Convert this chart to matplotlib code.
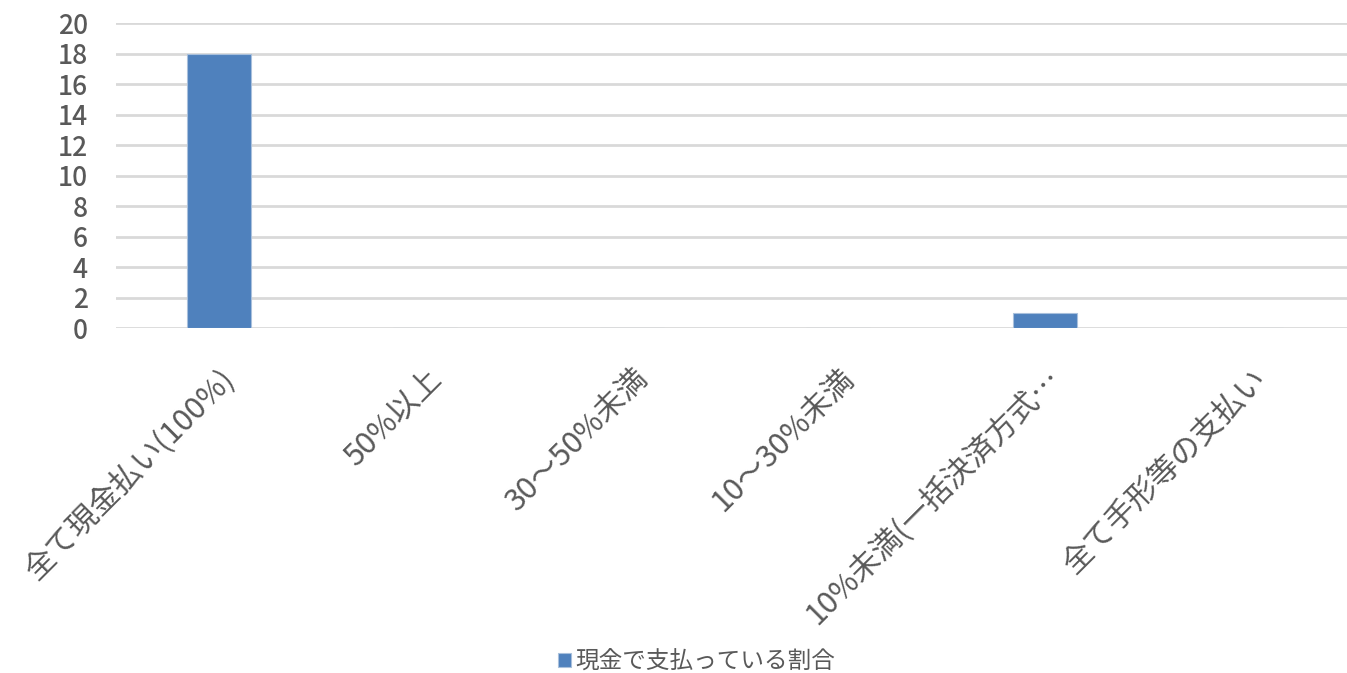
import matplotlib
matplotlib.use("Agg")
import matplotlib.pyplot as plt

plt.rcParams['font.family'] = ['Noto Sans CJK JP', 'DejaVu Sans']

categories = ["全て現金払い(100%)", "50%以上", "30～50%未満", "10～30%未満",
              "10%未満(一括決済方式…", "全て手形等の支払い"]
values = [18, 0, 0, 0, 1, 0]
series_name = "現金で支払っている割合"
yticks = [0, 2, 4, 6, 8, 10, 12, 14, 16, 18, 20]

text_color = "#595959"
bar_color = "#4f81bd"

fig = plt.figure(figsize=(13.47, 6.73), dpi=100)
ax = fig.add_axes([0.0859, 0.5126, 0.9198, 0.4532])

x = list(range(len(categories)))
ax.bar(x, values, width=0.31, color=bar_color, edgecolor="#a9c0dc", linewidth=0.8,
       label=series_name, zorder=3)

ax.set_xlim(-0.5, len(categories) - 0.5)
ax.set_ylim(0, 20)
ax.set_yticks(yticks)
ax.set_yticklabels([str(t) for t in yticks], fontsize=19, color=text_color,
                   fontweight='medium')
ax.yaxis.grid(True, color="#d9d9d9", linewidth=2, zorder=0)
ax.set_axisbelow(True)
for s in ax.spines.values():
    s.set_visible(False)
ax.tick_params(axis='both', length=0)
ax.tick_params(axis='y', pad=20)

ax.set_xticks(x)
ax.set_xticklabels(categories, rotation=45, ha='right', va='top',
                   rotation_mode='anchor', fontsize=22, color=text_color)
for lbl in ax.get_xticklabels():
    lbl.set_transform(lbl.get_transform() +
                      matplotlib.transforms.ScaledTranslation(0.23, 0, fig.dpi_scale_trans))
ax.tick_params(axis='x', pad=25)

handles, labels = ax.get_legend_handles_labels()
fig.legend(handles, labels, loc='center', bbox_to_anchor=(0.517, 0.017),
           frameon=False, fontsize=17, handlelength=0.55, handleheight=0.55,
           handletextpad=0.2, labelcolor=text_color)

fig.savefig("out.png", dpi=100, facecolor="white")
